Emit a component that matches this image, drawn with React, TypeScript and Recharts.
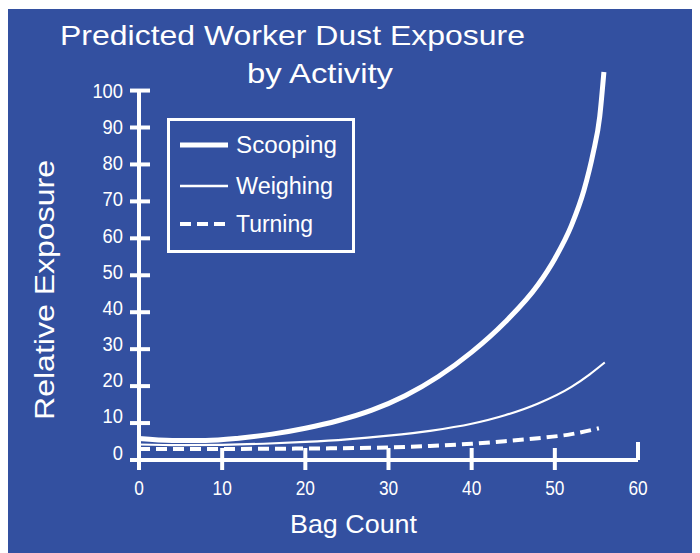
import React from 'react';
import { LineChart, Line, XAxis, YAxis, Legend, ReferenceLine, Customized } from 'recharts';

const titleLines = ['Predicted Worker Dust Exposure', 'by Activity'];
const xAxisTitle = 'Bag Count';
const yAxisTitle = 'Relative Exposure';
const seriesNames = ['Scooping', 'Weighing', 'Turning'];

const xTicks = [0, 10, 20, 30, 40, 50, 60];
const yTicks = [0, 10, 20, 30, 40, 50, 60, 70, 80, 90, 100];

const scoopingX = [0, 4, 8, 12, 16, 20, 24, 28, 32, 36, 40, 44, 48, 50, 52, 53.5, 54.6, 55.4, 55.9];
const scoopingY = [5.8, 5.3, 5.3, 5.9, 7.0, 8.6, 10.7, 13.5, 17.4, 22.6, 29.2, 37.3, 47.5, 54.5, 63.5, 73, 83, 93, 105];

const weighingX = [0, 5, 10, 15, 20, 25, 30, 35, 40, 44, 48, 52, 54.2, 56];
const weighingY = [4.2, 4.0, 4.1, 4.4, 4.9, 5.6, 6.6, 7.9, 9.8, 12.1, 15.3, 19.8, 23.2, 26.4];

const turningX = [0, 10, 20, 28, 35, 40, 44, 48, 52, 55.3];
const turningY = [3.0, 3.0, 3.1, 3.3, 3.8, 4.4, 5.1, 5.9, 7.0, 8.6];

const toPoints = (xs: number[], ys: number[]) => xs.map((x, i) => ({ x, y: ys[i] }));

const BLUE = '#3350a0';
const WHITE = '#ffffff';
const FONT = '"Liberation Sans", Arial, Helvetica, sans-serif';

const styles = [
  { strokeWidth: 5, dash: undefined as string | undefined, legendWidth: 5 },
  { strokeWidth: 2.2, dash: undefined as string | undefined, legendWidth: 2.5 },
  { strokeWidth: 4, dash: '11 6', legendWidth: 4 },
];

const series = [
  { name: seriesNames[0], data: toPoints(scoopingX, scoopingY), style: styles[0] },
  { name: seriesNames[1], data: toPoints(weighingX, weighingY), style: styles[1] },
  { name: seriesNames[2], data: toPoints(turningX, turningY), style: styles[2] },
];

const legendTextWidths = [101, 97, 77];

const YTick = (props: any) => {
  const { x, y, payload } = props;
  const v = payload.value as number;
  const ly = y + 7.5 - (100 - v) * 0.08;
  return (
    <g>
      <line x1={x - 9} x2={x + 11} y1={y} y2={y} stroke={WHITE} strokeWidth={4} />
      <text
        x={x - 16}
        y={ly}
        textAnchor="end"
        fill={WHITE}
        fontSize={20}
        fontFamily={FONT}
        textLength={String(v).length * 10.2}
        lengthAdjust="spacingAndGlyphs"
      >
        {v}
      </text>
    </g>
  );
};

const XTick = (props: any) => {
  const { x, y, payload } = props;
  const v = payload.value as number;
  const last = v === xTicks[xTicks.length - 1];
  return (
    <g>
      <line x1={x} x2={x} y1={last ? y - 18 : y - 12} y2={last ? y : y + 10} stroke={WHITE} strokeWidth={4} />
      <text
        x={x}
        y={y + 35}
        textAnchor="middle"
        fill={WHITE}
        fontSize={20}
        fontFamily={FONT}
        textLength={String(v).length * 9.6}
        lengthAdjust="spacingAndGlyphs"
      >
        {v}
      </text>
    </g>
  );
};

const renderLegend = (props: any) => {
  const payload = (props.payload || []) as any[];
  const rows = [27, 68, 106];
  return (
    <svg width={188} height={135} style={{ display: 'block', overflow: 'visible' }}>
      <rect x={1.5} y={1.5} width={185} height={132} fill="none" stroke={WHITE} strokeWidth={3} />
      {payload.map((p, i) => {
        const found = seriesNames.indexOf(p.value);
        const idx = found >= 0 ? found : i;
        const st = styles[idx];
        const y = rows[idx];
        return (
          <g key={String(p.value)}>
            <line x1={13} x2={61} y1={y} y2={y} stroke={WHITE} strokeWidth={st.legendWidth} strokeDasharray={st.dash} />
            <text
              x={69}
              y={y + 8}
              fill={WHITE}
              fontSize={23}
              fontFamily={FONT}
              textLength={legendTextWidths[idx]}
              lengthAdjust="spacingAndGlyphs"
            >
              {p.value}
            </text>
          </g>
        );
      })}
    </svg>
  );
};

const Titles = () => (
  <g>
    <text x={52} y={36} fill={WHITE} fontSize={28} fontFamily={FONT} textLength={465} lengthAdjust="spacingAndGlyphs">
      {titleLines[0]}
    </text>
    <text x={239} y={74} fill={WHITE} fontSize={28} fontFamily={FONT} textLength={146} lengthAdjust="spacingAndGlyphs">
      {titleLines[1]}
    </text>
    <text x={282} y={524} fill={WHITE} fontSize={25} fontFamily={FONT} textLength={127} lengthAdjust="spacingAndGlyphs">
      {xAxisTitle}
    </text>
    <text
      x={46}
      y={281}
      transform="rotate(-90 46 281)"
      textAnchor="middle"
      fill={WHITE}
      fontSize={27}
      fontFamily={FONT}
      textLength={260}
      lengthAdjust="spacingAndGlyphs"
    >
      {yAxisTitle}
    </text>
  </g>
);

export default function App() {
  return (
    <div style={{ width: 692, height: 544, marginTop: 1, background: BLUE, position: 'relative' }}>
      <LineChart width={692} height={544} margin={{ top: 52, right: 62, bottom: 63, left: 71 }}>
        <XAxis
          dataKey="x"
          type="number"
          domain={[0, 60]}
          ticks={xTicks}
          height={30}
          axisLine={{ stroke: WHITE, strokeWidth: 4 }}
          tickLine={false}
          tickSize={0}
          tickMargin={0}
          tick={<XTick />}
          interval={0}
        />
        <YAxis
          dataKey="y"
          type="number"
          domain={[0, 108]}
          ticks={yTicks}
          width={60}
          axisLine={false}
          tickLine={false}
          tickSize={0}
          tickMargin={0}
          tick={<YTick />}
          interval={0}
        />
        <ReferenceLine
          segment={[{ x: 0, y: 0 }, { x: 0, y: 100 }]}
          stroke={WHITE}
          strokeWidth={4}
          ifOverflow="visible"
        />
        <Legend
          layout="horizontal"
          verticalAlign="middle"
          align="center"
          width={188}
          height={135}
          itemSorter={null as any}
          wrapperStyle={{ left: 159, top: 109, width: 188, height: 135 }}
          content={renderLegend}
        />
        {series.map((s) => (
          <Line
            key={s.name}
            name={s.name}
            data={s.data}
            dataKey="y"
            type="monotoneX"
            stroke={WHITE}
            strokeWidth={s.style.strokeWidth}
            strokeDasharray={s.style.dash}
            dot={false}
            activeDot={false}
            isAnimationActive={false}
            legendType="line"
          />
        ))}
        <Customized component={Titles} />
      </LineChart>
    </div>
  );
}
